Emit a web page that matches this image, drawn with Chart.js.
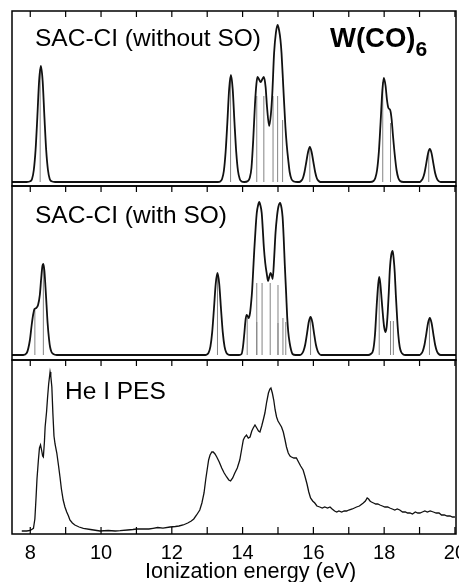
<!DOCTYPE html>
<html lang="en">
<head>
    <meta charset="UTF-8">
    <title>W(CO)6 ionization spectra</title>
    <script src="https://cdn.jsdelivr.net/npm/chart.js"></script>
    <style>
        html, body { margin: 0; padding: 0; background: #fff; overflow: hidden; }
        body { width: 459px; height: 582px; position: relative; font-family: "Liberation Sans", Arial, sans-serif; }
        canvas { position: absolute; left: 0; }
        .rotulo { position: absolute; font-size: 24.5px; line-height: 24px; color: #000; white-space: nowrap; z-index: 2; }
        .molecula { position: absolute; left: 330px; top: 24px; font-size: 27.5px; line-height: 27px; font-weight: bold; white-space: nowrap; z-index: 2; }
        .molecula span { font-size: 21px; position: relative; top: 9px; }
        .eixo { position: absolute; left: 145px; top: 559.5px; font-size: 21.6px; line-height: 22px; white-space: nowrap; z-index: 2; }
    </style>
</head>
<body>
    <canvas id="chartSemSO" width="480" height="188" style="top:0px"></canvas>
    <canvas id="chartComSO" width="480" height="178" style="top:184px"></canvas>
    <canvas id="chartPES" width="480" height="224" style="top:358px"></canvas>

    <div class="rotulo" style="left:35px; top:26px">SAC-CI (without SO)</div>
    <div class="molecula">W(CO)<span>6</span></div>
    <div class="rotulo" style="left:35px; top:202.5px">SAC-CI (with SO)</div>
    <div class="rotulo" style="left:65px; top:379px">He I PES</div>
    <div class="eixo">Ionization energy (eV)</div>

<script>
    // eixo x (eV)
    const xMin = 7.484
    const xMax = 20.03
    const xTicks = [8, 10, 12, 14, 16, 18, 20]
    const minorTicks = [8, 9, 10, 11, 12, 13, 14, 15, 16, 17, 18, 19, 20]

    // SAC-CI sem SO: barras
    const semSoBarE = [8.28, 13.66, 14.40, 14.60, 14.86, 14.99, 15.13, 15.90, 17.96, 18.18, 19.26]
    const semSoBarI = [113, 104, 86, 86, 86, 86, 62, 34, 100, 59, 32]

    // SAC-CI sem SO: espectro
    const semSoE = [7.484, 7.9, 8.0, 8.05, 8.1, 8.15, 8.2, 8.25, 8.3, 8.35, 8.4, 8.45, 8.5, 8.55, 8.6, 8.7,
        13.3, 13.37, 13.42, 13.47, 13.52, 13.57, 13.62, 13.67, 13.72, 13.77, 13.82, 13.87, 13.92, 13.97, 14.05,
        14.15, 14.2, 14.25, 14.3, 14.35, 14.39, 14.42, 14.46, 14.51, 14.56, 14.60, 14.65, 14.69, 14.75, 14.80, 14.84, 14.89, 14.94, 14.99, 15.03, 15.07, 15.10, 15.15, 15.21, 15.25, 15.29, 15.33, 15.38, 15.45, 15.55,
        15.6, 15.65, 15.7, 15.75, 15.8, 15.85, 15.9, 15.95, 16.0, 16.05, 16.1, 16.15, 16.2,
        17.6, 17.7, 17.75, 17.8, 17.85, 17.9, 17.95, 17.99, 18.04, 18.08, 18.12, 18.17, 18.21, 18.25, 18.3, 18.35, 18.4, 18.45, 18.55,
        19.0, 19.04, 19.09, 19.14, 19.19, 19.24, 19.29, 19.34, 19.39, 19.44, 19.49, 19.54, 19.6, 20.03]
    const semSoI = [0, 0, 0.7, 3, 12, 32, 65, 101, 116, 101, 65, 32, 12, 3, 0.7, 0,
        0, 0.6, 3, 11, 30, 60, 93, 107, 93, 60, 30, 11, 3, 0.6, 0,
        1, 4, 14, 42, 78, 98, 105, 103, 100, 103, 105, 95, 75, 56, 68, 89, 129, 149, 157, 152, 142, 129, 95, 55, 36, 22, 10, 3, 0.5, 0,
        0, 1, 3.5, 10, 20, 30, 35, 30, 20, 10, 3.5, 1, 0,
        0, 1, 4, 12, 30, 60, 92, 104, 96, 82, 74, 72, 63, 46, 27, 12, 4, 1, 0,
        0, 0.9, 3.4, 9, 18.6, 28.6, 33, 28.6, 18.6, 9, 3.4, 0.9, 0, 0]

    // SAC-CI com SO: barras
    const comSoBarE = [8.13, 8.37, 13.29, 14.13, 14.40, 14.40, 14.55, 14.78, 15.00, 15.00, 15.14, 15.22, 15.92, 17.86, 18.18, 18.26, 19.28]
    const comSoBarI = [45, 88, 80, 37, 72, 33, 72, 72, 70, 32, 37, 33, 37, 76, 34, 34, 36]

    // SAC-CI com SO: espectro
    const comSoE = [7.484, 7.8, 7.9, 7.99, 8.04, 8.08, 8.12, 8.17, 8.22, 8.27, 8.31, 8.34, 8.37, 8.40, 8.43, 8.46, 8.49, 8.53, 8.56, 8.6, 8.65, 8.75,
        12.95, 12.99, 13.04, 13.09, 13.14, 13.19, 13.24, 13.29, 13.34, 13.39, 13.44, 13.49, 13.54, 13.59, 13.65,
        13.9, 13.97, 14.01, 14.05, 14.08, 14.11, 14.14, 14.17, 14.21, 14.24, 14.27, 14.30, 14.33, 14.37, 14.40, 14.44, 14.47, 14.50, 14.54, 14.57, 14.60, 14.64, 14.68, 14.72, 14.76, 14.79, 14.82, 14.85, 14.89, 14.93, 14.97, 15.01, 15.06, 15.10, 15.13, 15.16, 15.19, 15.23, 15.26, 15.29, 15.33, 15.37, 15.41, 15.5,
        15.62, 15.67, 15.72, 15.77, 15.82, 15.87, 15.92, 15.97, 16.02, 16.07, 16.12, 16.17, 16.22,
        17.55, 17.62, 17.69, 17.74, 17.79, 17.83, 17.86, 17.89, 17.93, 17.97, 18.0, 18.04, 18.07, 18.10, 18.13, 18.16, 18.2, 18.24, 18.27, 18.30, 18.33, 18.37, 18.40, 18.44, 18.48, 18.54, 18.6,
        19.0, 19.04, 19.09, 19.14, 19.19, 19.24, 19.29, 19.34, 19.39, 19.44, 19.49, 19.54, 19.6, 20.03]
    const comSoI = [0, 0, 2, 15, 30, 40, 46, 47, 50, 60, 77, 88, 91, 84, 68, 50, 32, 16, 8, 3, 1, 0,
        0, 0.5, 2.3, 8.3, 22.6, 46, 71, 82, 71, 46, 22.6, 8.3, 2.3, 0.5, 0,
        0, 1, 8, 22, 34, 40, 39, 37, 42, 52, 65, 85, 105, 128, 142, 150, 153, 150, 142, 126, 108, 92, 82, 74, 79, 82, 80, 76, 96, 122, 138, 148, 152, 147, 138, 118, 92, 62, 38, 23, 12, 5, 1, 0,
        0, 1, 4, 10.5, 21.4, 33, 38, 33, 21.4, 10.5, 4, 1, 0,
        0, 1, 5, 20, 50, 70, 78, 72, 55, 38, 28, 23, 28, 42, 62, 85, 100, 104, 96, 82, 60, 35, 20, 8, 3, 0.5, 0,
        0, 1, 3.8, 10.2, 20.9, 32, 37, 32, 20.9, 10.2, 3.8, 1, 0, 0]

    // He I PES experimental
    const pesE = [7.76, 7.9, 8.0, 8.09, 8.13, 8.16, 8.19, 8.23, 8.26, 8.29, 8.32, 8.35, 8.37, 8.40, 8.42, 8.46, 8.49, 8.52, 8.56, 8.58, 8.61, 8.64, 8.67, 8.70, 8.75, 8.80, 8.84, 8.88, 8.93, 8.98, 9.03, 9.08, 9.12, 9.19, 9.26, 9.38, 9.50, 9.7, 9.97,
        10.2, 10.4, 10.54, 10.75, 10.9, 11.01, 11.2, 11.35, 11.47, 11.6, 11.75, 11.95, 12.1, 12.2, 12.32, 12.45, 12.55, 12.62, 12.7, 12.79, 12.85, 12.91, 12.96,
        13.01, 13.04, 13.08, 13.13, 13.17, 13.22, 13.27, 13.34, 13.41, 13.48, 13.55, 13.61, 13.66, 13.72, 13.78, 13.85, 13.92, 13.97,
        14.02, 14.06, 14.11, 14.16, 14.21, 14.26, 14.30, 14.35, 14.40, 14.45, 14.49, 14.54, 14.59, 14.63, 14.68, 14.73, 14.77, 14.80, 14.84, 14.88, 14.92, 14.96,
        15.0, 15.05, 15.10, 15.15, 15.2, 15.24, 15.29, 15.34, 15.38, 15.45, 15.52, 15.58, 15.64, 15.71, 15.76, 15.82, 15.87, 15.92, 15.98,
        16.04, 16.1, 16.18, 16.25, 16.32, 16.4, 16.47, 16.53, 16.6, 16.66, 16.72, 16.8, 16.87, 16.94,
        17.0, 17.1, 17.22, 17.3, 17.41, 17.47, 17.52, 17.56, 17.6, 17.64, 17.7, 17.76, 17.82, 17.88, 17.95,
        18.02, 18.1, 18.16, 18.23, 18.3, 18.37, 18.44, 18.52, 18.6, 18.66, 18.73, 18.8, 18.88, 18.95,
        19.01, 19.08, 19.15, 19.22, 19.3, 19.39, 19.47, 19.55, 19.62, 19.7, 19.78, 19.86, 19.93, 20.0]
    const pesI = [3, 3, 3.5, 5.7, 15, 34, 55, 74, 86, 89, 84, 78, 77, 92, 107, 122, 137, 150, 162, 158, 147, 120, 98, 90, 81, 68, 57, 45, 34, 27, 22, 18, 14, 11, 9, 7, 5.7, 4.5, 3,
        3.5, 3, 3.3, 4, 4.5, 5, 5.2, 5, 5.7, 6.5, 5.8, 7, 7.5, 8, 9, 11, 13, 15, 19, 24, 31, 41, 55,
        67, 74, 79, 82, 82, 80, 77, 72, 66, 61, 57, 54, 53, 56, 61, 66, 74, 84,
        94, 97, 99, 96, 97, 103, 106, 109, 106, 103, 102, 108, 115, 121, 132, 141, 145, 146, 141, 134, 124, 117,
        113, 110, 107, 102, 94, 87, 81, 78, 77, 76, 76, 72, 68, 64, 58, 50, 42, 36, 33,
        31, 28, 27, 26, 27, 26, 27, 25, 23, 22, 23, 22, 23, 23,
        24, 25, 27, 28, 31, 33, 36, 35, 33, 32, 31, 30, 30, 29, 28,
        27, 27, 26, 25, 24, 25, 24, 22, 22, 21, 21, 20, 22, 21,
        21, 22, 23, 22, 23, 22, 21, 21, 19, 19, 18, 18, 17, 17]

    Chart.defaults.font.family = '"Liberation Sans", Arial, sans-serif'
    Chart.defaults.color = '#000'

    function pontos(vetorE, vetorI) {
        const vetor = []
        for (let i = 0; i < vetorE.length; i++) {
            vetor.push({ x: vetorE[i], y: vetorI[i] })
        }
        return vetor
    }

    // cada barra vira um segmento vertical, separado por null
    function barras(vetorE, vetorI) {
        const vetor = []
        for (let i = 0; i < vetorE.length; i++) {
            vetor.push({ x: vetorE[i], y: 0 })
            vetor.push({ x: vetorE[i], y: vetorI[i] })
            vetor.push({ x: vetorE[i], y: null })
        }
        return vetor
    }

    const moldura = {
        id: 'moldura',
        afterDraw(chart, args, opts) {
            const ctx = chart.ctx
            const area = chart.chartArea
            const x = chart.scales.x
            ctx.save()
            ctx.strokeStyle = '#000'
            ctx.lineWidth = 1.5
            ctx.strokeRect(area.left, area.top, area.right - area.left, area.bottom - area.top)
            ctx.lineWidth = 1.2
            ctx.beginPath()
            minorTicks.forEach((v) => {
                const px = x.getPixelForValue(v)
                ctx.moveTo(px, area.top)
                ctx.lineTo(px, area.top + 6)
                if (opts.embaixo) {
                    ctx.moveTo(px, area.bottom)
                    ctx.lineTo(px, area.bottom - 7)
                }
            })
            ctx.stroke()
            ctx.restore()
        }
    }

    function eixoX(mostrar) {
        return {
            type: 'linear',
            min: xMin,
            max: xMax,
            offset: false,
            display: mostrar,
            grid: { display: false, drawTicks: false },
            border: { display: false },
            afterBuildTicks: (s) => {
                s.ticks = xTicks.map((v) => ({ value: v }))
            },
            afterFit: (s) => {
                if (mostrar) s.height = 48
            },
            ticks: {
                includeBounds: false,
                autoSkip: false,
                maxRotation: 0,
                padding: 9,
                color: '#000',
                font: { size: 20, lineHeight: 1 }
            }
        }
    }

    function criarGrafico(id, datasets, yMin, yMax, padTop, padBottom, temEixo) {
        return new Chart(document.getElementById(id), {
            type: 'line',
            data: { datasets: datasets },
            options: {
                responsive: false,
                devicePixelRatio: 1,
                animation: false,
                events: [],
                layout: { padding: { left: 12, right: 24, top: padTop, bottom: padBottom } },
                plugins: {
                    legend: { display: false },
                    tooltip: { enabled: false },
                    moldura: { embaixo: temEixo }
                },
                scales: {
                    x: eixoX(temEixo),
                    y: { display: false, min: yMin, max: yMax }
                }
            },
            plugins: [moldura]
        })
    }

    function curva(dados, largura) {
        return {
            data: dados,
            borderColor: '#111',
            borderWidth: largura,
            pointRadius: 0,
            cubicInterpolationMode: 'monotone',
            tension: 0.4,
            fill: false
        }
    }

    function linhasBarras(dados) {
        return {
            data: dados,
            borderColor: '#848484',
            borderWidth: 1,
            pointRadius: 0,
            tension: 0,
            spanGaps: false,
            fill: false
        }
    }

    criarGrafico('chartSemSO', [
        curva(pontos(semSoE, semSoI), 1.8),
        linhasBarras(barras(semSoBarE, semSoBarI))
    ], -4, 171, 11, 2, false)

    criarGrafico('chartComSO', [
        curva(pontos(comSoE, comSoI), 1.8),
        linhasBarras(barras(comSoBarE, comSoBarI))
    ], -5, 169, 2, 2, false)

    const pes = curva(pontos(pesE, pesI), 1.3)
    pes.cubicInterpolationMode = 'default'
    pes.tension = 0
    criarGrafico('chartPES', [pes], 0, 174, 2, 0, true)
</script>
</body>
</html>
